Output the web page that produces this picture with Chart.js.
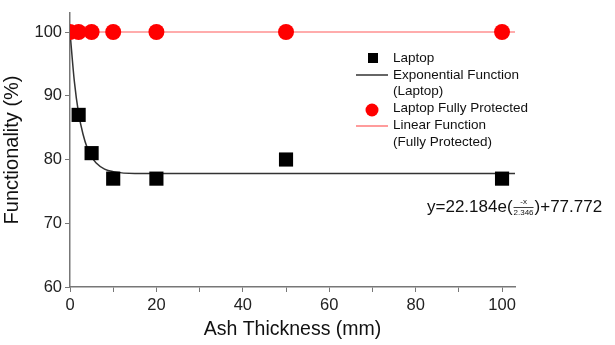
<!DOCTYPE html>
<html>
<head>
<meta charset="utf-8">
<script src="https://cdn.jsdelivr.net/npm/chart.js@4"></script>
<style>
  html, body { margin: 0; padding: 0; background: #fff; }
  #wrap { width: 615px; height: 345px; }
</style>
</head>
<body>
<div id="wrap"><canvas id="myChart"></canvas></div>
<script>
// measured data (ash thickness in mm, functionality in %)
var laptopX = [2, 5, 10, 20, 50, 100];
var laptopY = [87, 81, 77, 77, 80, 77];
var protectedX = [0, 2, 5, 10, 20, 50, 100];
var protectedY = [100, 100, 100, 100, 100, 100, 100];
// fit curves
var expFitX = [0, 1, 2, 3, 4, 5, 6, 8, 10, 15, 20, 50, 103];
var expFitY = [100, 92.3, 87.2, 84, 81.8, 80.4, 79.5, 78.5, 78.1, 77.8, 77.8, 77.8, 77.8];
var linFitX = [0, 103];
var linFitY = [100, 100];
var xTicks = [0, 10, 20, 30, 40, 50, 60, 70, 80, 90, 100];
var yTicks = [60, 70, 80, 90, 100];
var legendLabels = ['Laptop', 'Exponential Function', '(Laptop)', 'Laptop Fully Protected', 'Linear Function', '(Fully Protected)'];

var FONT = "'Liberation Sans', Arial, sans-serif";

function toPoints(xs, ys) {
  var pts = [];
  for (var i = 0; i < xs.length; i++) {
    pts.push({x: xs[i], y: ys[i]});
  }
  return pts;
}

// legend + equation drawn by hand, the built-in legend can't do the two-line labels
var notesPlugin = {
  id: 'notes',
  afterDraw: function(chart) {
    var ctx = chart.ctx;
    ctx.save();
    ctx.font = '13.5px ' + FONT;
    ctx.fillStyle = '#111';
    ctx.textBaseline = 'middle';
    var rows = [58, 75, 91, 108, 125, 142];
    for (var i = 0; i < legendLabels.length; i++) {
      ctx.fillText(legendLabels[i], 393, rows[i]);
    }
    // symbols
    ctx.fillStyle = '#000';
    ctx.fillRect(368, 53, 10, 10);
    ctx.strokeStyle = '#333';
    ctx.lineWidth = 1.5;
    ctx.beginPath(); ctx.moveTo(356, 75); ctx.lineTo(388, 75); ctx.stroke();
    ctx.fillStyle = '#ff0000';
    ctx.beginPath(); ctx.arc(372, 110, 6.5, 0, Math.PI * 2); ctx.fill();
    ctx.strokeStyle = '#ff5a5a';
    ctx.lineWidth = 1.2;
    ctx.beginPath(); ctx.moveTo(356, 126); ctx.lineTo(388, 126); ctx.stroke();

    // equation
    var x = 427, y = 207;
    ctx.fillStyle = '#111';
    ctx.font = '17px ' + FONT;
    ctx.fillText('y=22.184e(', x, y);
    x += ctx.measureText('y=22.184e(').width + 1;
    ctx.font = '8px ' + FONT;
    var w = ctx.measureText('2.346').width;
    ctx.textAlign = 'center';
    ctx.fillText('-x', x + w / 2, y - 5);
    ctx.fillText('2.346', x + w / 2, y + 6);
    ctx.strokeStyle = '#111';
    ctx.lineWidth = 0.8;
    ctx.beginPath(); ctx.moveTo(x, y + 0.5); ctx.lineTo(x + w, y + 0.5); ctx.stroke();
    ctx.textAlign = 'left';
    ctx.font = '17px ' + FONT;
    ctx.fillText(')+77.772', x + w + 1, y);
    ctx.restore();
  }
};

var ctx = document.getElementById('myChart').getContext('2d');
var chart = new Chart(ctx, {
  type: 'scatter',
  data: {
    datasets: [{
      label: 'Laptop',
      data: toPoints(laptopX, laptopY),
      pointStyle: 'rect',
      pointRadius: 10,
      backgroundColor: '#000',
      borderColor: '#000',
      borderWidth: 0,
      order: 0
    }, {
      label: 'Laptop Fully Protected',
      data: toPoints(protectedX, protectedY),
      pointStyle: 'circle',
      pointRadius: 8,
      backgroundColor: '#ff0000',
      borderColor: '#ff0000',
      borderWidth: 0,
      order: 0
    }, {
      label: 'Exponential Function (Laptop)',
      data: toPoints(expFitX, expFitY),
      showLine: true,
      cubicInterpolationMode: 'monotone',
      pointRadius: 0,
      borderColor: '#333',
      borderWidth: 1.5,
      order: 1
    }, {
      label: 'Linear Function (Fully Protected)',
      data: toPoints(linFitX, linFitY),
      showLine: true,
      pointRadius: 0,
      borderColor: '#ff5a5a',
      borderWidth: 1.2,
      order: 1
    }]
  },
  options: {
    responsive: true,
    maintainAspectRatio: false,
    animation: false,
    layout: { padding: { top: 8, right: 100, left: 0, bottom: 0 } },
    plugins: {
      legend: { display: false },
      tooltip: { enabled: false }
    },
    scales: {
      x: {
        type: 'linear',
        min: 0,
        max: 103,
        afterBuildTicks: function(scale) {
          scale.ticks = xTicks.map(function(v) { return {value: v}; });
        },
        afterFit: function(scale) { scale.height = 58; },
        ticks: {
          autoSkip: false,
          maxRotation: 0,
          padding: 4,
          color: '#222',
          font: { family: FONT, size: 16.5 },
          callback: function(v) { return v % 20 === 0 ? String(v) : ''; }
        },
        grid: { drawOnChartArea: false, drawTicks: true, tickLength: 5, color: '#777' },
        border: { display: true, color: '#777', width: 1.5 },
        title: {
          display: true,
          text: 'Ash Thickness (mm)',
          color: '#111',
          font: { family: FONT, size: 19.5 },
          padding: { top: 0, bottom: 4 }
        }
      },
      y: {
        min: 60,
        max: 103,
        afterBuildTicks: function(scale) {
          scale.ticks = yTicks.map(function(v) { return {value: v}; });
        },
        afterFit: function(scale) { scale.width = 70; },
        ticks: {
          padding: 3,
          color: '#222',
          font: { family: FONT, size: 16.5 }
        },
        grid: { drawOnChartArea: false, drawTicks: true, tickLength: 5, color: '#777' },
        border: { display: true, color: '#777', width: 1.5 },
        title: {
          display: true,
          text: 'Functionality (%)',
          color: '#111',
          font: { family: FONT, size: 20 },
          padding: { top: 0, bottom: 0 }
        }
      }
    }
  },
  plugins: [notesPlugin]
});
</script>
</body>
</html>
